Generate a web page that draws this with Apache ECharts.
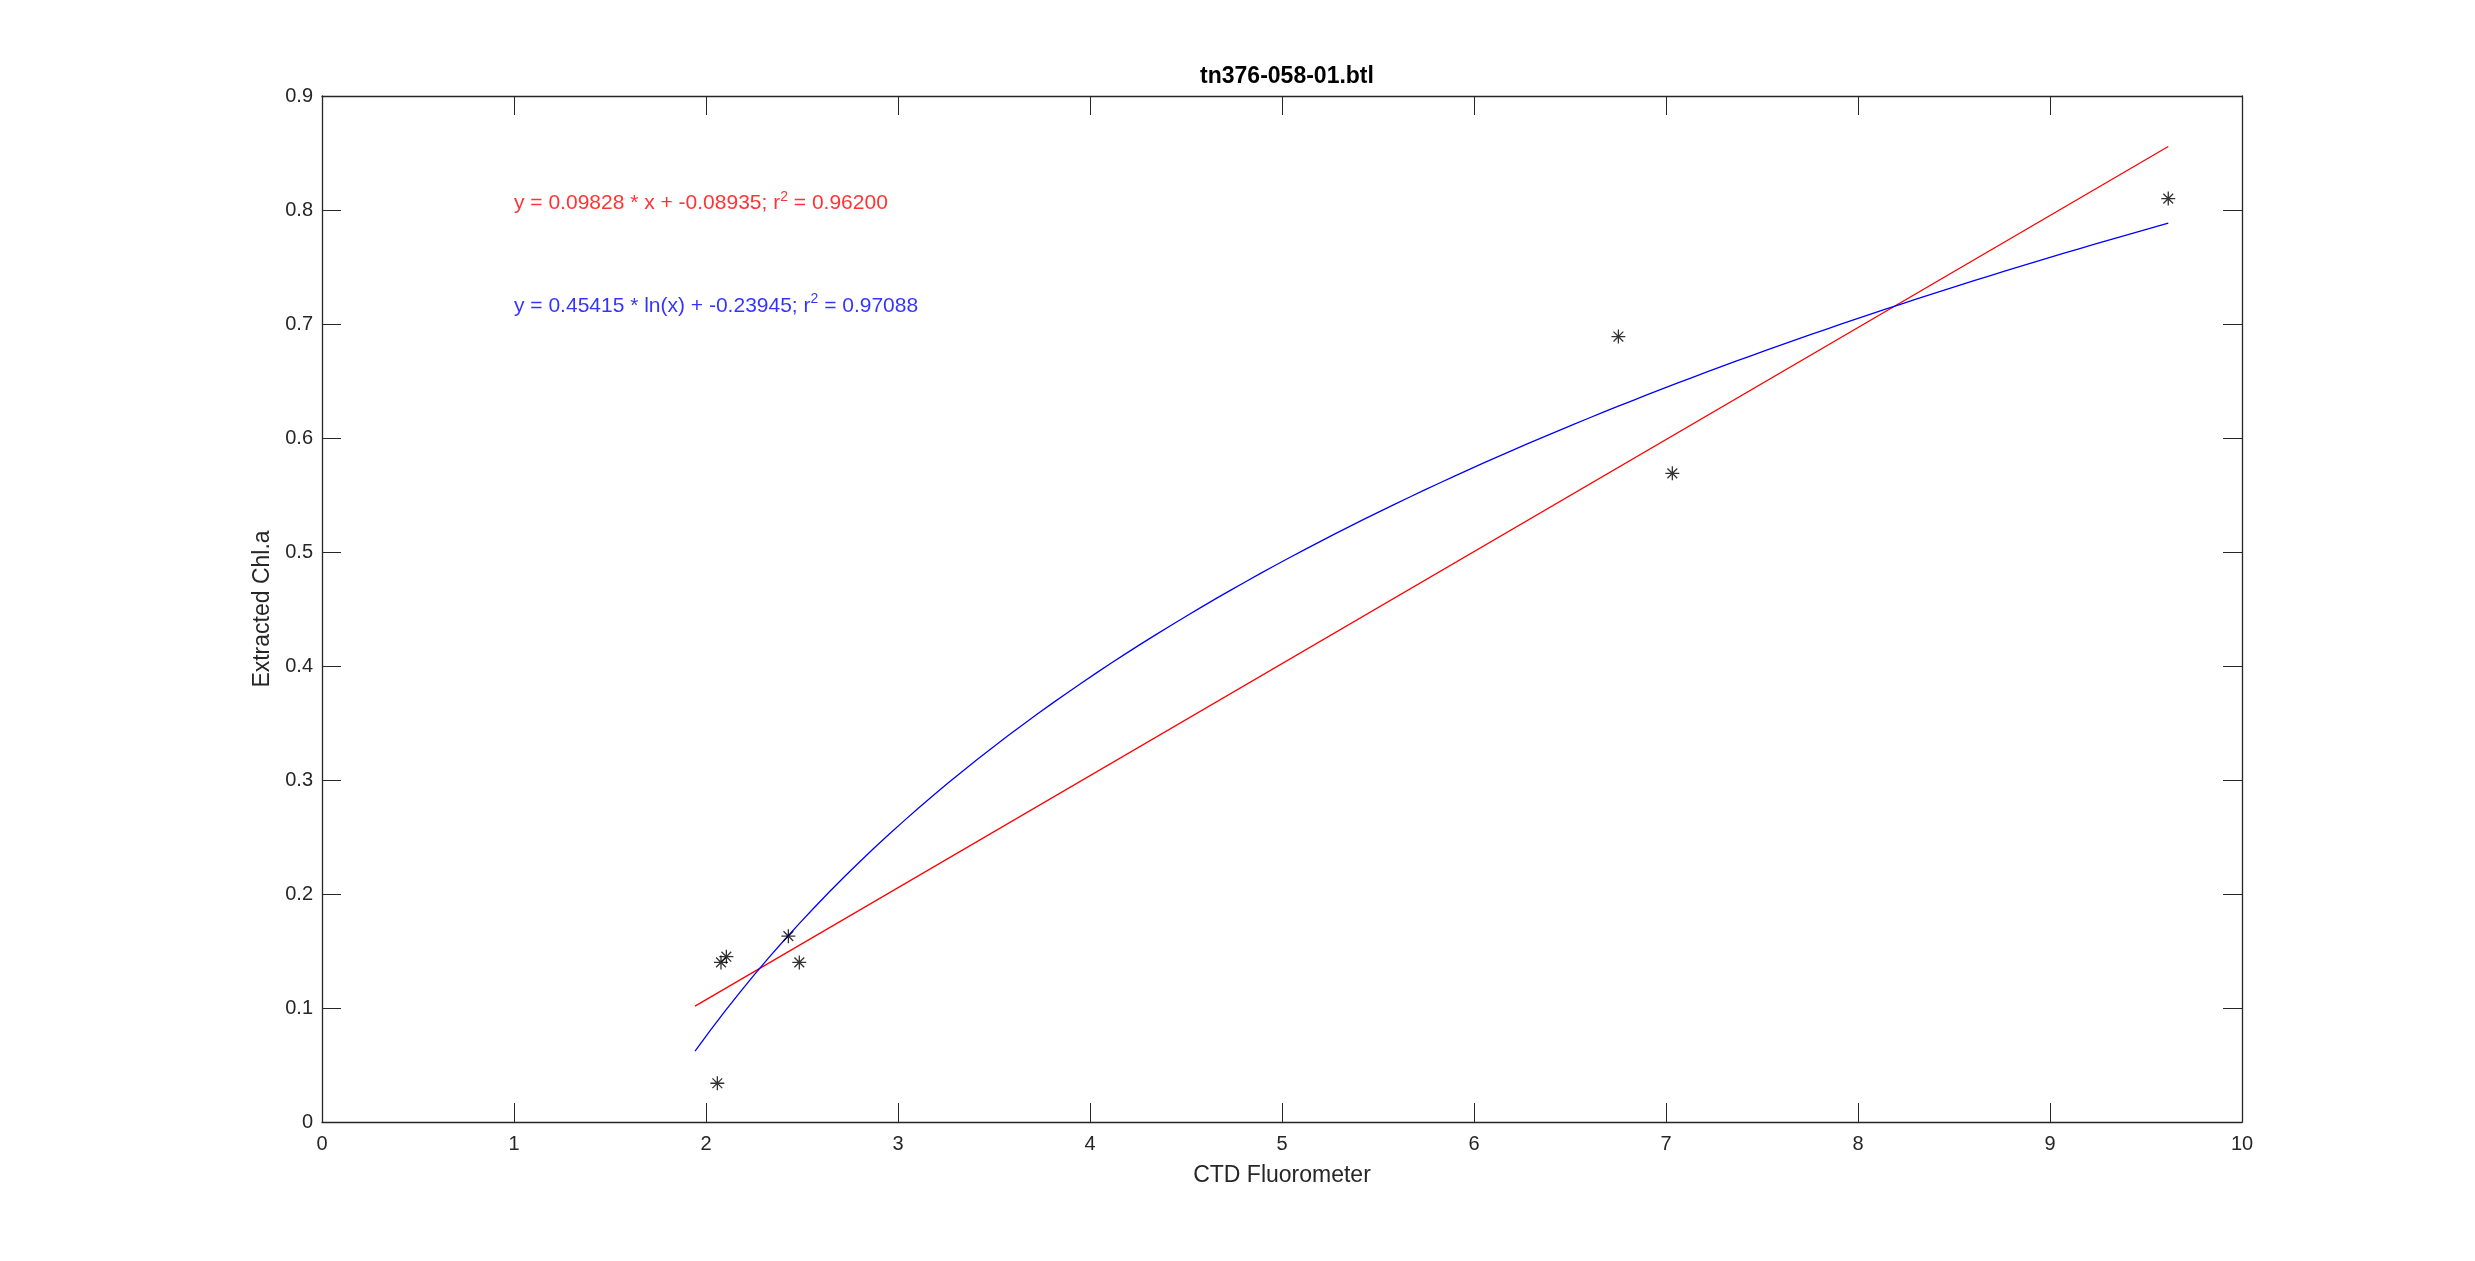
<!DOCTYPE html>
<html>
<head>
<meta charset="utf-8">
<script src="https://cdn.jsdelivr.net/npm/echarts@6/dist/echarts.min.js"></script>
<style>html,body{margin:0;padding:0;background:#fff}#c{width:2475px;height:1261px}</style>
</head>
<body>
<div id="c"></div>
<script>
// ---- data ----
var title = 'tn376-058-01.btl';
var xName = 'CTD Fluorometer';
var yName = 'Extracted Chl.a';
var obsX = [2.059, 2.078, 2.106, 2.429, 2.486, 6.752, 7.033, 9.616];
var obsY = [0.034, 0.140, 0.145, 0.163, 0.140, 0.689, 0.569, 0.810];
var linCoef = [0.09828, -0.08935];   // slope, intercept
var linR2 = '0.96200';
var logCoef = [0.45415, -0.23945];   // a*ln(x)+b
var logR2 = '0.97088';
var fitRange = [1.943, 9.616];
var linTextPos = [1, 0.806];
var logTextPos = [1, 0.716];
var xTicks = [0, 10, 1];
var yTicks = [0, 0.9, 0.1];

// fit curves from the shown coefficients
var linLine = fitRange.map(function (x) { return [x, linCoef[0] * x + linCoef[1]]; });
var logLine = [];
var nS = 100;
for (var i = 0; i < nS; i++) {
  var x = fitRange[0] + (fitRange[1] - fitRange[0]) * i / (nS - 1);
  logLine.push([x, logCoef[0] * Math.log(x) + logCoef[1]]);
}
var pts = obsX.map(function (x, i) { return [x, obsY[i]]; });

var axCol = '#262626';
var font = 'Liberation Sans, Arial, Helvetica, sans-serif';
var asterisk = 'path://M0,-10 L0,10 M-10,0 L10,0 M-7,-7 L7,7 M-7,7 L7,-7';

function xAx(pos, show) {
  return {
    type: 'value', position: pos, min: xTicks[0], max: xTicks[1], interval: xTicks[2],
    name: show ? xName : '', nameLocation: 'middle', nameGap: 42,
    nameTextStyle: { color: axCol, fontSize: 23, fontFamily: font },
    axisLine: { show: true, onZero: false, lineStyle: { color: axCol, width: 1.3 } },
    axisTick: { show: true, inside: true, length: 19, lineStyle: { color: axCol, width: 1 } },
    axisLabel: { show: show, color: axCol, fontSize: 20, fontFamily: font, margin: 12 },
    splitLine: { show: false }
  };
}
function yAx(pos, show) {
  return {
    type: 'value', position: pos, min: yTicks[0], max: yTicks[1], interval: yTicks[2],
    name: show ? yName : '', nameLocation: 'middle', nameGap: 48,
    nameTextStyle: { color: axCol, fontSize: 23, fontFamily: font },
    axisLine: { show: true, onZero: false, lineStyle: { color: axCol, width: 1.3 } },
    axisTick: { show: true, inside: true, length: 19, lineStyle: { color: axCol, width: 1 } },
    axisLabel: { show: show, color: axCol, fontSize: 20, fontFamily: font, margin: 9,
      formatter: function (v) { return String(Math.round(v * 10) / 10); } },
    splitLine: { show: false }
  };
}

function textSeries(pos, color, text, r2) {
  return {
    type: 'scatter', xAxisIndex: 0, yAxisIndex: 0, symbolSize: 0, silent: true,
    data: [pos],
    label: {
      show: true, position: 'right', distance: 0,
      formatter: text + '{s|2}' + ' = ' + r2,
      color: color, fontSize: 21, fontFamily: font,
      rich: { s: { fontSize: 14, color: color, fontFamily: font, padding: [0, 0, 13, 0] } }
    }
  };
}

var chart = echarts.init(document.getElementById('c'), null, { renderer: 'canvas' });
chart.setOption({
  backgroundColor: '#ffffff',
  animation: false,
  title: {
    text: title, left: 1282, top: 60, textAlign: 'center',
    textStyle: { color: '#000', fontSize: 23, fontWeight: 'bold', fontFamily: font }
  },
  grid: { left: 322, right: 233, top: 96, bottom: 139, containLabel: false },
  xAxis: [xAx('bottom', true), xAx('top', false)],
  yAxis: [yAx('left', true), yAx('right', false)],
  series: [
    { type: 'line', data: linLine, showSymbol: false, symbol: 'none',
      lineStyle: { color: '#ff0000', width: 1.3 }, z: 3 },
    { type: 'line', data: logLine, showSymbol: false, symbol: 'none', smooth: false,
      lineStyle: { color: '#0000ff', width: 1.3 }, z: 3 },
    { type: 'scatter', data: pts, symbol: asterisk, symbolSize: 14,
      itemStyle: { color: 'rgba(0,0,0,0)', borderColor: '#000', borderWidth: 1.3 }, z: 4 },
    textSeries(linTextPos, '#ff0000', 'y = ' + linCoef[0].toFixed(5) + ' * x + ' + linCoef[1].toFixed(5) + '; r', linR2),
    textSeries(logTextPos, '#0000ff', 'y = ' + logCoef[0].toFixed(5) + ' * ln(x) + ' + logCoef[1].toFixed(5) + '; r', logR2)
  ]
});
</script>
</body>
</html>
